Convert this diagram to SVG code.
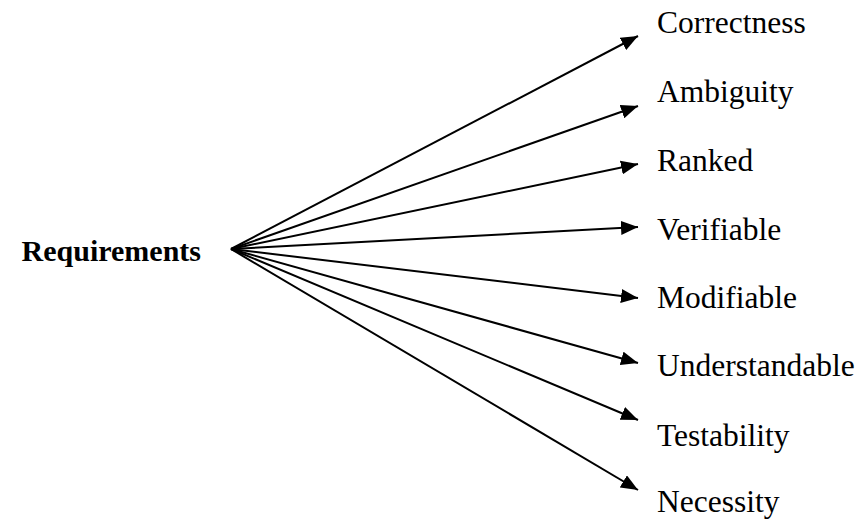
<svg xmlns="http://www.w3.org/2000/svg" width="862" height="521" viewBox="0 0 862 521">
  <style>
    .lbl { font-family: "Liberation Serif", "Times New Roman", serif; font-size: 31.5px; fill: #000; }
    .root { font-family: "Liberation Serif", "Times New Roman", serif; font-size: 30px; font-weight: bold; fill: #000; text-anchor: end; }
    .edge { stroke: #000; stroke-width: 2; fill: none; marker-end: url(#head); }
  </style>
  <defs>
    <marker id="head" markerUnits="userSpaceOnUse" markerWidth="18" markerHeight="14" refX="17" refY="7" orient="auto">
      <path d="M0,0 L17,7 L0,14 Z" fill="#000"/>
    </marker>
  </defs>

  <rect width="862" height="521" fill="#fff"/>

  <!-- fan of arrows from the root point to each quality -->
  <g id="connectors">
    <line class="edge" x1="231" y1="249" x2="638" y2="36"/>
    <line class="edge" x1="231" y1="249" x2="638" y2="106"/>
    <line class="edge" x1="231" y1="249" x2="638" y2="164"/>
    <line class="edge" x1="231" y1="249" x2="638" y2="227"/>
    <line class="edge" x1="231" y1="249" x2="638" y2="298"/>
    <line class="edge" x1="231" y1="249" x2="638" y2="363"/>
    <line class="edge" x1="231" y1="249" x2="638" y2="420"/>
    <line class="edge" x1="231" y1="249" x2="638" y2="490"/>
  </g>

  <g id="requirements"><text class="root" x="201" y="261">Requirements</text></g>
  <g id="correctness"><text class="lbl" x="657" y="33">Correctness</text></g>
  <g id="ambiguity"><text class="lbl" x="657" y="102">Ambiguity</text></g>
  <g id="ranked"><text class="lbl" x="657" y="171">Ranked</text></g>
  <g id="verifiable"><text class="lbl" x="657" y="240">Verifiable</text></g>
  <g id="modifiable"><text class="lbl" x="657" y="308">Modifiable</text></g>
  <g id="understandable"><text class="lbl" x="657" y="376">Understandable</text></g>
  <g id="testability"><text class="lbl" x="657" y="446">Testability</text></g>
  <g id="necessity"><text class="lbl" x="657" y="512">Necessity</text></g>
</svg>
